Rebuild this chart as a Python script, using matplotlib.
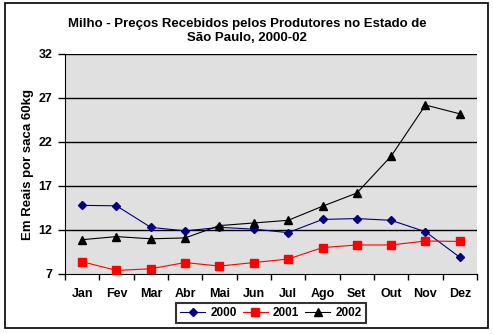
import matplotlib.pyplot as plt
from matplotlib.patches import Rectangle

meses = ["Jan", "Fev", "Mar", "Abr", "Mai", "Jun", "Jul", "Ago", "Set", "Out", "Nov", "Dez"]
precos_2000 = [14.8, 14.75, 12.3, 11.9, 12.3, 12.1, 11.7, 13.2, 13.3, 13.1, 11.8, 8.9]
precos_2001 = [8.4, 7.4, 7.6, 8.3, 7.9, 8.3, 8.7, 10.0, 10.3, 10.3, 10.75, 10.7]
precos_2002 = [10.9, 11.25, 11.0, 11.1, 12.5, 12.8, 13.1, 14.7, 16.2, 20.4, 26.2, 25.2]
y_ticks = [7, 12, 17, 22, 27, 32]

plt.rcParams["font.family"] = ["Liberation Sans", "DejaVu Sans"]
plt.rcParams["font.weight"] = "bold"

fig = plt.figure(figsize=(4.93, 3.34), dpi=100)
W, H = 493, 334
ax = fig.add_axes([65 / W, 1 - 274 / H, (477 - 65) / W, (274 - 54) / H])
ax.set_facecolor("#e0e0e0")

x = list(range(len(meses)))
ax.plot(x, precos_2000, color="#000080", marker="D", markersize=4.5, linewidth=0.8, label="2000", zorder=3)
ax.plot(x, precos_2001, color="#ff0000", marker="s", markersize=5.5, linewidth=0.8, label="2001", zorder=3)
ax.plot(x, precos_2002, color="black", marker="^", markersize=6, linewidth=0.8, label="2002", zorder=3)

ax.set_xlim(-0.5, len(meses) - 0.5)
ax.set_ylim(7, 32)
ax.set_yticks(y_ticks)
ax.set_yticklabels([str(v) for v in y_ticks], fontsize=9, fontweight="bold")
ax.set_xticks(x)
ax.set_xticklabels(meses, fontsize=9, fontweight="bold")
ax.tick_params(axis="x", length=0, pad=10)
ax.set_xticks([i - 0.5 for i in range(len(meses) + 1)], minor=True)
ax.tick_params(axis="x", which="minor", length=4, width=1, direction="out")
ax.tick_params(axis="y", length=5, width=1, direction="out", pad=4)
for v in y_ticks[1:]:
    ax.axhline(v, color="black", linewidth=1, zorder=1)
for s in ["top", "right"]:
    ax.spines[s].set_visible(False)

ax.set_ylabel("Em Reais por saca 60kg", fontsize=9.5, fontweight="bold", labelpad=3)

fig.text(247 / W, 1 - 31 / H, "Milho - Preços Recebidos pelos Produtores no Estado de\nSão Paulo, 2000-02",
         ha="center", va="center", fontsize=9.5, fontweight="bold", linespacing=1.25)

leg = fig.legend(loc="center", bbox_to_anchor=(271 / W, 1 - 313 / H), ncol=3, frameon=True,
                 fontsize=8.5, fancybox=False, handlelength=2.1, columnspacing=0.5,
                 handletextpad=0.45, borderpad=0.35)
leg.get_frame().set_edgecolor("black")
leg.get_frame().set_linewidth(1.5)

# moldura externa do gráfico
fig.patches.append(Rectangle((5 / W, 1 - 328 / H), (488 - 5) / W, (328 - 3) / H,
                             transform=fig.transFigure, fill=False, edgecolor="black", linewidth=1.2))

fig.savefig("out.png", dpi=100)
